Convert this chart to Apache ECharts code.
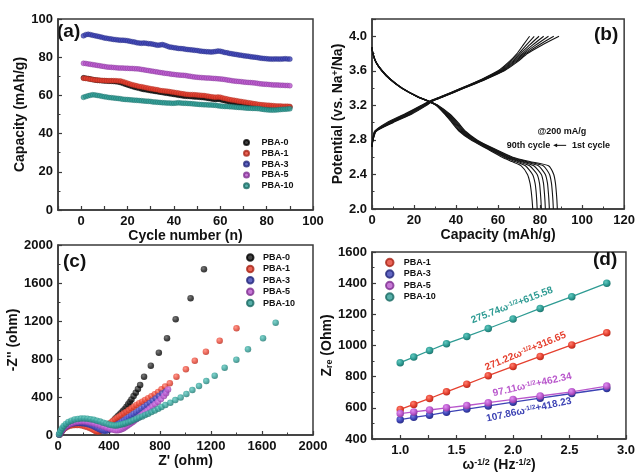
<!DOCTYPE html>
<html><head><meta charset="utf-8">
<script src="https://cdn.jsdelivr.net/npm/echarts@6/dist/echarts.min.js"></script>
<style>html,body{margin:0;padding:0;background:#fff}#c{width:638px;height:475px}</style>
</head><body><div id="c"></div>
<script>
// ---------- Panel (a): cycling capacity ----------
const seriesNames = ['PBA-0','PBA-1','PBA-3','PBA-5','PBA-10'];
const capA0 = [
69.2,69.0,68.8,68.6,68.3,68.1,67.9,67.8,67.7,67.6,
67.5,67.4,67.4,67.3,67.2,67.0,66.7,66.3,65.9,65.5,
65.1,64.7,64.3,64.0,63.7,63.4,63.1,62.9,62.7,62.5,
62.3,62.1,61.9,61.7,61.5,61.3,61.1,60.9,60.7,60.5,
60.3,60.1,59.9,59.7,59.6,59.5,59.4,59.3,59.2,59.1,
59.0,58.9,58.8,58.6,58.4,58.2,58.0,57.9,58.0,57.8,
57.5,57.2,56.9,56.6,56.4,56.2,56.0,55.8,55.6,55.4,
55.2,55.0,54.8,54.6,54.4,54.2,54.0,53.9,53.8,53.8,
53.7,53.7,53.6,53.6,53.7,53.7,53.8,53.8,53.8,53.9];
const capA1 = [
69.0,68.9,68.7,68.5,68.3,68.1,68.0,67.9,67.8,67.8,
67.7,67.7,67.7,67.7,67.7,67.6,67.5,67.2,66.8,66.4,
66.0,65.6,65.3,65.0,64.7,64.5,64.3,64.0,63.8,63.5,
63.3,63.1,62.9,62.6,62.4,62.3,62.2,62.0,61.8,61.6,
61.4,61.2,61.0,60.8,60.6,60.5,60.4,60.4,60.3,60.2,
60.1,60.0,59.9,59.7,59.5,59.3,59.1,59.0,59.1,59.0,
58.7,58.4,58.1,57.8,57.6,57.4,57.2,57.0,56.8,56.6,
56.4,56.2,56.0,55.8,55.6,55.4,55.2,55.1,55.0,54.9,
54.8,54.7,54.6,54.5,54.4,54.4,54.3,54.3,54.3,54.2];
const capA3 = [
91.2,91.8,92.0,91.8,91.5,91.2,91.0,90.7,90.4,90.1,
89.9,89.7,89.5,89.3,89.2,89.0,88.9,88.9,88.8,88.6,
88.4,88.1,87.9,87.6,87.4,87.3,87.4,87.3,87.1,87.0,
86.8,86.5,86.3,86.4,86.6,86.3,85.8,85.4,85.2,85.0,
84.8,84.6,84.5,84.4,84.2,84.0,83.9,83.8,83.6,83.5,
83.3,83.1,83.0,82.9,82.8,82.7,82.8,83.0,83.2,83.1,
82.8,82.5,82.3,82.0,81.8,81.6,81.4,81.2,81.0,80.8,
80.6,80.5,80.3,80.1,80.0,79.8,79.6,79.4,79.3,79.2,
79.1,79.0,79.0,79.1,79.0,79.0,79.1,79.2,79.1,79.0];
const capA5 = [
76.8,76.7,76.5,76.3,76.1,75.9,75.7,75.5,75.3,75.1,
74.9,74.8,74.7,74.6,74.5,74.4,74.3,74.3,74.2,74.2,
74.1,74.1,74.0,73.9,73.8,73.6,73.4,73.2,73.0,72.8,
72.6,72.4,72.2,72.0,71.8,71.6,71.5,71.3,71.1,71.0,
70.8,70.7,70.6,70.5,70.4,70.2,70.0,69.8,69.6,69.5,
69.4,69.3,69.2,69.1,69.1,69.0,68.9,68.8,68.7,68.6,
68.5,68.3,68.1,67.9,67.7,67.5,67.4,67.3,67.2,67.0,
66.9,66.8,66.7,66.6,66.5,66.3,66.1,66.0,65.9,65.8,
65.7,65.6,65.5,65.5,65.4,65.3,65.3,65.2,65.2,65.1];
const capA10 = [
59.0,59.4,59.8,60.1,60.3,60.2,60.0,59.8,59.5,59.3,
59.1,58.9,58.8,58.7,58.5,58.4,58.2,58.0,57.9,57.8,
57.7,57.6,57.5,57.4,57.3,57.2,57.1,57.0,56.9,56.8,
56.6,56.5,56.4,56.3,56.2,56.1,56.0,56.0,55.9,55.9,
56.0,56.1,56.0,55.9,55.9,55.8,55.7,55.6,55.5,55.4,
55.3,55.2,55.1,55.1,55.0,55.0,54.9,54.8,54.6,54.4,
54.3,54.2,54.2,54.1,54.0,53.9,53.8,53.7,53.6,53.5,
53.4,53.3,53.3,53.2,53.2,53.1,53.0,52.8,52.6,52.5,
52.4,52.3,52.3,52.4,52.5,52.6,52.7,52.8,52.9,53.0];
const cycles = capA0.map((_, i) => i + 1);

// ---------- Panel (b): charge / discharge profiles ----------
const vDis = [3.87,3.8,3.7,3.6,3.5,3.4,3.3,3.25,3.2,3.1,3.0,2.9,2.8,2.7,2.6,2.55,2.5,2.4,2.3,2.2,2.1,2.0];
const dis1  = [0,0.5,2.0,5.0,9.0,14.5,22.0,27.0,31.5,37.0,41.0,44.5,50.0,58.0,67.0,75.0,84.0,86.5,87.3,87.7,88.0,88.2];
const dis15 = [0,0.5,2.0,4.9,8.9,14.4,21.9,26.9,31.3,36.5,40.5,44.0,49.5,57.4,66.2,73.5,81.5,84.5,85.4,85.8,86.1,86.3];
const dis30 = [0,0.5,1.9,4.8,8.8,14.3,21.8,26.8,31.1,36.0,40.0,43.5,49.0,56.8,65.4,72.0,79.2,82.5,83.5,83.9,84.2,84.4];
const dis45 = [0,0.4,1.9,4.8,8.7,14.2,21.7,26.7,30.9,35.6,39.5,43.0,48.4,56.2,64.6,70.8,77.0,80.6,81.6,82.0,82.3,82.5];
const dis60 = [0,0.4,1.9,4.7,8.6,14.1,21.6,26.6,30.7,35.2,39.0,42.5,47.9,55.6,63.8,69.5,75.0,78.6,79.7,80.1,80.4,80.6];
const dis75 = [0,0.4,1.8,4.7,8.6,14.0,21.5,26.5,30.6,34.8,38.5,42.0,47.4,55.0,63.0,68.0,73.0,76.4,77.6,78.1,78.4,78.6];
const dis90 = [0,0.4,1.8,4.6,8.5,14.0,21.5,26.5,30.5,34.5,38.0,41.5,47.0,54.5,62.0,66.5,71.0,74.0,75.2,75.8,76.2,76.5];
const vCh = [2.72,2.8,2.9,3.0,3.1,3.2,3.25,3.3,3.4,3.5,3.6,3.7,3.8,3.9,4.0];
const ch1  = [0,0.5,2.0,10.0,19.0,26.0,29.0,34.0,44.0,54.0,63.0,69.0,74.0,81.0,89.0];
const ch15 = [0,0.5,1.9,9.5,18.4,25.6,28.8,33.8,43.8,53.7,62.5,68.3,73.2,79.5,86.5];
const ch30 = [0,0.4,1.7,9.0,17.8,25.2,28.6,33.6,43.6,53.4,62.0,67.6,72.4,78.0,84.0];
const ch45 = [0,0.4,1.6,8.5,17.2,24.8,28.4,33.3,43.3,53.0,61.5,67.0,71.6,76.5,81.7];
const ch60 = [0,0.4,1.5,8.0,16.7,24.4,28.1,33.0,43.0,52.7,61.0,66.3,70.8,75.0,79.5];
const ch75 = [0,0.3,1.3,7.5,16.1,23.9,27.8,32.8,42.8,52.3,60.5,65.6,69.9,73.5,77.2];
const ch90 = [0,0.3,1.2,7.0,15.5,23.5,27.5,32.5,42.5,52.0,60.0,65.0,69.0,72.0,75.0];

// ---------- Panel (c): Nyquist plots [Z', -Z''] ----------
const eis0 = [[12,5],[20,25],[30,45],[45,70],[60,90],[80,110],[100,125],[125,136],[150,143],[175,146],[200,146],[225,143],[250,137],[275,128],[300,118],[325,108],[350,100],[370,96],[390,98],[405,110],[419,126],[432,145],[445,166],[458,185],[472,202],[485,218],[498,236],[511,255],[524,275],[537,298],[550,323],[563,348],[576,375],[593,410],[610,446],[627,485],[644,526],[675,614],[728,730],[791,866],[855,1018],[923,1218],[1040,1439],[1145,1744]];
const eis1 = [[10,5],[18,22],[28,40],[40,58],[55,75],[72,88],[90,97],[110,103],[130,106],[150,106],[170,104],[190,99],[210,92],[230,84],[250,74],[268,63],[283,52],[296,42],[308,37],[320,38],[332,45],[345,55],[358,68],[370,82],[382,97],[394,110],[406,122],[419,133],[432,147],[449,165],[466,182],[482,196],[498,210],[517,228],[537,245],[556,263],[576,281],[595,298],[615,316],[637,334],[660,351],[683,368],[707,386],[733,407],[759,428],[785,452],[812,481],[840,510],[877,544],[929,614],[1003,691],[1073,782],[1160,877],[1268,993],[1400,1123]];
const eis3 = [[10,5],[18,25],[28,45],[40,65],[55,85],[72,100],[90,112],[110,120],[130,125],[150,127],[170,127],[190,125],[210,121],[230,115],[250,107],[270,97],[290,85],[310,72],[328,60],[345,50],[360,45],[375,45],[390,50],[405,60],[420,72],[436,85],[452,98],[468,112],[485,125],[502,140],[520,155],[538,170],[556,186],[575,203],[594,220],[614,238],[634,256],[655,275],[676,295],[698,316],[720,338],[743,361],[767,385],[792,410],[818,436],[845,458]];
const eis5 = [[12,5],[20,25],[30,45],[42,65],[58,85],[75,102],[95,116],[115,127],[138,135],[160,140],[185,142],[210,141],[235,137],[260,130],[285,121],[310,110],[335,98],[360,86],[385,75],[410,64],[432,56],[452,51],[470,50],[486,54],[500,62],[514,72],[528,84],[542,97],[556,110],[570,124],[585,138],[600,153],[616,169],[632,185],[649,202],[666,220],[684,239],[702,259],[721,280],[741,302],[762,325],[784,350],[807,378],[831,410],[848,440],[863,478]];
const eis10 = [[8,5],[14,25],[22,48],[32,72],[45,95],[62,117],[82,136],[105,151],[130,162],[155,169],[180,173],[205,174],[230,172],[255,167],[280,160],[305,151],[330,141],[355,130],[378,120],[400,111],[420,104],[440,100],[460,100],[478,104],[495,110],[512,117],[529,125],[550,135],[571,145],[593,157],[615,170],[637,183],[660,196],[683,210],[707,225],[733,241],[759,258],[786,276],[812,294],[842,316],[881,340],[920,368],[962,396],[1007,432],[1054,474],[1106,516],[1163,568],[1229,625],[1307,709],[1399,793],[1490,902],[1608,1018],[1707,1182]];

// ---------- Panel (d): Zre vs w^-1/2 ----------
const wInv = [1.0,1.12,1.26,1.41,1.59,1.78,2.0,2.24,2.52,2.83];
const zre1  = [590,622,660,703,752,806,866,930,1004,1082];
const zre3  = [524,539,553,572,592,612,636,662,692,724];
const zre5  = [563,574,586,600,615,633,654,676,703,740];
const zre10 = [890,926,968,1012,1058,1109,1170,1238,1313,1400];
const fitLabels = [
  {name:'PBA-10', a:'275.74', b:'+615.58', at:[1.99,1259], rot:21},
  {name:'PBA-1',  a:'271.22', b:'+316.65', at:[2.11,963],  rot:22.5},
  {name:'PBA-5',  a:'97.11',  b:'+462.34', at:[2.17,748],  rot:12.5},
  {name:'PBA-3',  a:'107.86', b:'+418.23', at:[2.14,587],  rot:12}
];

// ---------- styling ----------
const FONT = '"Liberation Sans", Arial, Helvetica, sans-serif';
const AXC = '#3a3a3a';
const COL = {'PBA-0':'#161616','PBA-1':'#e5402f','PBA-3':'#3c42b4','PBA-5':'#b957cc','PBA-10':'#2e9b93'};
const LIGHT = {'PBA-0':'#5a5a5a','PBA-1':'#ff8070','PBA-3':'#777ce2','PBA-5':'#e090f0','PBA-10':'#62c9c0'};
const DARK = {'PBA-0':'#000','PBA-1':'#a82518','PBA-3':'#23277a','PBA-5':'#7e2f90','PBA-10':'#1a6a63'};
function ball(n){ return {type:'radial',x:0.38,y:0.35,r:0.75,colorStops:[{offset:0,color:LIGHT[n]},{offset:0.55,color:COL[n]},{offset:1,color:DARK[n]}]}; }

function merge(a,b){ const o=Object.assign({},a); for(const k in b){ if(b[k]&&typeof b[k]==='object'&&!Array.isArray(b[k])&&a[k]&&typeof a[k]==='object') o[k]=merge(a[k],b[k]); else o[k]=b[k]; } return o; }
const nameRich = {
  n:{fontSize:14,fontWeight:'bold',fontFamily:FONT,color:'#111'},
  s:{fontSize:9,fontWeight:'bold',fontFamily:FONT,color:'#111',verticalAlign:'top'},
  b:{fontSize:9,fontWeight:'bold',fontFamily:FONT,color:'#111',verticalAlign:'bottom'}
};
function ax(gi,o){
  return merge({
    type:'value', gridIndex:gi, splitLine:{show:false},
    axisLine:{show:true,onZero:false,lineStyle:{color:AXC,width:1.5}},
    axisTick:{show:true,inside:true,length:4,lineStyle:{color:AXC,width:1.2}},
    minorTick:{show:true,splitNumber:2,length:2.5,lineStyle:{color:AXC,width:1}},
    axisLabel:{color:'#111',fontSize:13,fontWeight:'bold',fontFamily:FONT,margin:5,formatter:v=>String(v)},
    nameLocation:'middle',
    nameTextStyle:{color:'#111',fontSize:14,fontWeight:'bold',fontFamily:FONT,rich:nameRich}
  }, o);
}
const half = v => Math.abs(v*2-Math.round(v*2))<1e-6 ? v.toFixed(1) : '';

const series = [];
// (a)
[capA0,capA1,capA3,capA5,capA10].forEach((arr,k)=>{
  const n=seriesNames[k];
  series.push({type:'scatter',name:n,xAxisIndex:0,yAxisIndex:0,symbolSize:5,
    data:cycles.map((c,i)=>[c,arr[i]]),
    itemStyle:{color:COL[n],borderColor:DARK[n],borderWidth:0.5}});
});
// (b)
[dis1,dis15,dis30,dis45,dis60,dis75,dis90].forEach((arr,k)=>{
  series.push({type:'line',name:'dis'+k,xAxisIndex:1,yAxisIndex:1,showSymbol:false,smooth:0.2,
    data:arr.map((c,i)=>[c,vDis[i]]),lineStyle:{color:'#141414',width:1.1}});
});
[ch1,ch15,ch30,ch45,ch60,ch75,ch90].forEach((arr,k)=>{
  series.push({type:'line',name:'ch'+k,xAxisIndex:1,yAxisIndex:1,showSymbol:false,smooth:0.2,
    data:arr.map((c,i)=>[c,vCh[i]]),lineStyle:{color:'#141414',width:1.1}});
});
// (c)
[eis0,eis1,eis3,eis5,eis10].forEach((arr,k)=>{
  const n=seriesNames[k];
  series.push({type:'scatter',name:n,xAxisIndex:2,yAxisIndex:2,symbolSize:6.5,data:arr,
    itemStyle:{color:ball(n)}});
});
// (d)
[['PBA-1',zre1],['PBA-3',zre3],['PBA-5',zre5],['PBA-10',zre10]].forEach(([n,arr])=>{
  series.push({type:'line',name:n,xAxisIndex:3,yAxisIndex:3,symbol:'circle',symbolSize:7.5,showSymbol:true,
    data:wInv.map((w,i)=>[w,arr[i]]),lineStyle:{color:COL[n],width:1.3},itemStyle:{color:ball(n)}});
});

const legText = {fontSize:9,fontWeight:'bold',fontFamily:FONT,color:'#111'};
const option = {
  animation:false,
  backgroundColor:'#fff',
  textStyle:{fontFamily:FONT},
  grid:[
    {left:58,top:19,width:255,height:191,show:true,borderColor:AXC,borderWidth:1.5},
    {left:372,top:19,width:256,height:190,show:true,borderColor:AXC,borderWidth:1.5},
    {left:58,top:245,width:255,height:190,show:true,borderColor:AXC,borderWidth:1.5},
    {left:372,top:252,width:256,height:187,show:true,borderColor:AXC,borderWidth:1.5}
  ],
  xAxis:[
    ax(0,{min:-10,max:100,interval:10,minorTick:{show:false},axisLabel:{formatter:v=>(v>=0&&v%20===0)?String(v):''},name:'Cycle number (n)',nameGap:12}),
    ax(1,{min:0,max:120,interval:20,name:'Capacity (mAh/g)',nameGap:13}),
    ax(2,{min:0,max:2000,interval:400,name:"Z' (ohm)",nameGap:19}),
    ax(3,{min:0.75,max:3.0,interval:0.25,minorTick:{show:false},axisLabel:{formatter:half},name:'{n|ω}{s|-1/2}{n| (Hz}{s|-1/2}{n|)}',nameGap:15})
  ],
  yAxis:[
    ax(0,{min:0,max:100,interval:20,name:'Capacity (mAh/g)',nameGap:28}),
    ax(1,{min:2.0,max:4.2,interval:0.4,axisLabel:{formatter:v=>v.toFixed(1),showMaxLabel:false},name:'{n|Potential (vs. Na}{s|+}{n|/Na)}',nameGap:25}),
    ax(2,{min:0,max:2000,interval:400,name:"-Z'' (ohm)",nameGap:35}),
    ax(3,{min:400,max:1600,interval:200,name:'{n|Z}{b|re}{n| (Ohm)}',nameGap:34})
  ],
  legend:[
    {data:seriesNames,orient:'vertical',left:243,top:137.5,icon:'circle',itemWidth:20,itemHeight:5,itemGap:0.8,padding:0,selectedMode:false,textStyle:Object.assign({lineHeight:10},legText)},
    {data:seriesNames,orient:'vertical',left:246,top:252,icon:'circle',itemWidth:15.4,itemHeight:6.5,itemGap:0.4,padding:0,selectedMode:false,textStyle:Object.assign({lineHeight:11},legText)},
    {data:['PBA-1','PBA-3','PBA-5','PBA-10'],orient:'vertical',left:385,top:257,icon:'circle',itemWidth:18,itemHeight:7.5,itemGap:0.5,padding:0,selectedMode:false,textStyle:Object.assign({lineHeight:11},legText)}
  ],
  series
};

const chart = echarts.init(document.getElementById('c'),null,{renderer:'canvas'});
chart.setOption(option);

// annotations
const P = (g,pt) => chart.convertToPixel({gridIndex:g}, pt);
const g = [];
const letter = (t,x,y) => g.push({type:'text',x,y,style:{text:t,fill:'#111',font:'bold 19px '+FONT,textAlign:'left',textVerticalAlign:'top'}});
letter('(a)',57,22); letter('(b)',594,25); letter('(c)',63,252); letter('(d)',593,250);
const small = (t,pt) => { const p=P(1,pt); g.push({type:'text',x:p[0],y:p[1],style:{text:t,fill:'#111',font:'bold 9px '+FONT,textAlign:'center',textVerticalAlign:'middle'}}); };
small('@200 mA/g',[90.4,2.895]);
small('90th cycle',[74.5,2.74]);
small('1st cycle',[104.2,2.74]);
const a0=P(1,[86.2,2.737]), a1=P(1,[92.4,2.737]);
g.push({type:'line',shape:{x1:a0[0]+3,y1:a0[1],x2:a1[0],y2:a1[1]},style:{stroke:'#111',lineWidth:1}});
g.push({type:'polygon',shape:{points:[[a0[0],a0[1]],[a0[0]+4,a0[1]-1.8],[a0[0]+4,a0[1]+1.8]]},style:{fill:'#111'}});
fitLabels.forEach(f=>{
  const p=P(3,f.at);
  g.push({type:'text',x:p[0],y:p[1],rotation:f.rot*Math.PI/180,
    style:{text:'{a|'+f.a+'ω}{s|-1/2}{a|'+f.b+'}',fill:COL[f.name],textAlign:'center',textVerticalAlign:'middle',
      rich:{a:{fontSize:10,fontWeight:'bold',fontFamily:FONT,fill:COL[f.name]},
            s:{fontSize:6.5,fontWeight:'bold',fontFamily:FONT,fill:COL[f.name],verticalAlign:'top'}}}});
});
chart.setOption({graphic:g});
</script></body></html>
